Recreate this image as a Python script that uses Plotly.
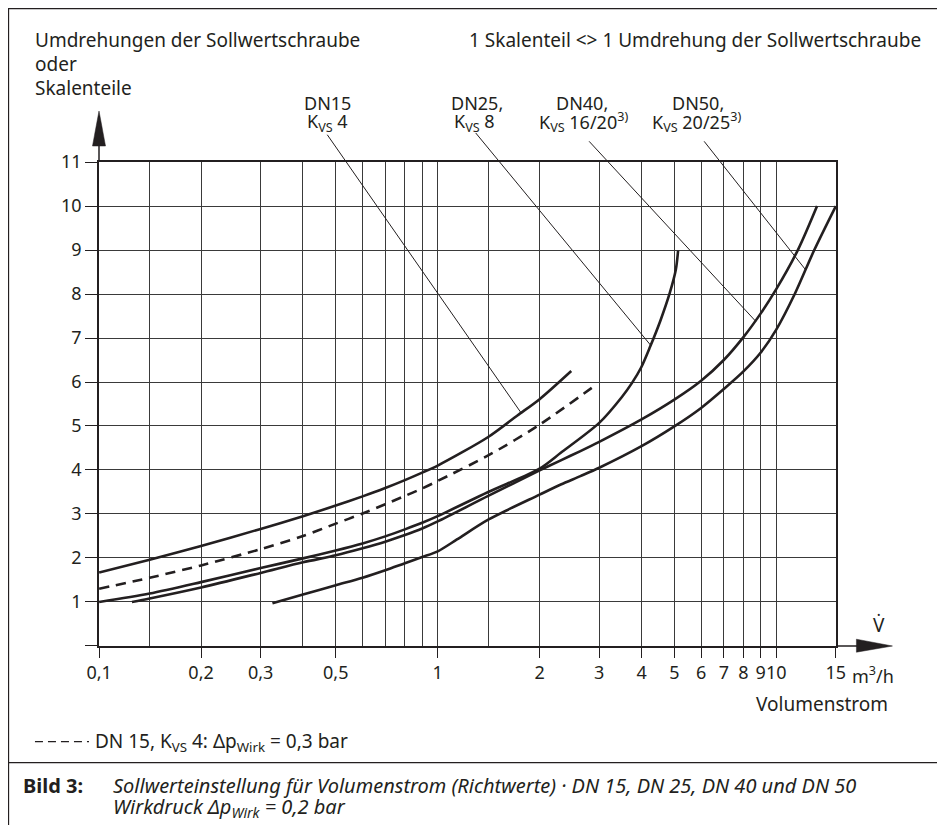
import math
import plotly.graph_objects as go

# ---------------- data ----------------
# DN15, Kvs 4, Δp = 0,2 bar (solid)
dn15_x = [0.1, 0.141, 0.2, 0.3, 0.4, 0.5, 0.6, 0.7, 0.8, 0.9, 1.0, 1.41, 1.72, 2.0, 2.48]
dn15_y = [1.67, 1.96, 2.27, 2.66, 2.95, 3.19, 3.40, 3.59, 3.77, 3.94, 4.10, 4.75, 5.24, 5.61, 6.25]
# DN15, Kvs 4, Δp = 0,3 bar (dashed)
dn15b_x = [0.1, 0.141, 0.2, 0.3, 0.4, 0.5, 0.6, 0.7, 0.8, 0.9, 1.0, 1.41, 2.0, 2.95]
dn15b_y = [1.30, 1.55, 1.83, 2.20, 2.50, 2.78, 3.01, 3.22, 3.41, 3.58, 3.75, 4.33, 5.03, 5.95]
# DN25, Kvs 8
dn25_x = [0.1, 0.141, 0.2, 0.3, 0.4, 0.5, 0.6, 0.7, 0.8, 0.9, 1.0, 1.41, 2.0, 2.31, 3.0, 3.5,
          3.75, 3.99, 4.24, 4.55, 4.85, 5.05, 5.13]
dn25_y = [1.0, 1.19, 1.45, 1.77, 1.99, 2.17, 2.33, 2.49, 2.65, 2.80, 2.95, 3.50, 4.03, 4.39, 5.07, 5.66,
          5.98, 6.33, 6.80, 7.40, 8.03, 8.55, 8.99]
# DN40, Kvs 16/20
dn40_x = [0.125, 0.141, 0.2, 0.3, 0.4, 0.5, 0.6, 0.7, 0.8, 0.9, 1.0, 1.41, 2.0, 2.31, 2.64, 3.0,
          4.0, 5.0, 6.0, 7.0, 8.0, 9.0, 10.0, 11.6, 13.2]
dn40_y = [1.0, 1.08, 1.33, 1.66, 1.90, 2.06, 2.22, 2.37, 2.52, 2.67, 2.83, 3.41, 3.99, 4.22, 4.43, 4.64,
          5.15, 5.60, 6.03, 6.50, 7.02, 7.56, 8.11, 9.01, 10.0]
# DN50, Kvs 20/25
dn50_x = [0.325, 0.4, 0.5, 0.6, 0.7, 0.8, 0.9, 1.0, 1.14, 1.41, 2.0, 2.31, 2.64, 3.0, 4.0, 5.0,
          6.0, 7.0, 8.0, 9.0, 10.0, 11.34, 12.95, 15.0]
dn50_y = [0.97, 1.17, 1.38, 1.55, 1.72, 1.88, 2.02, 2.15, 2.42, 2.87, 3.44, 3.67, 3.86, 4.05, 4.54, 4.99,
          5.41, 5.84, 6.24, 6.67, 7.19, 8.0, 9.0, 10.0]

x_tick_vals = [0.1, 0.2, 0.3, 0.5, 1, 2, 3, 4, 5, 6, 7, 8, 9, 10, 15]
x_tick_text = ["0,1", "0,2", "0,3", "0,5", "1", "2", "3", "4", "5", "6", "7", "8", "9", "10", "15"]
x_minor_vals = [0.141, 0.4, 0.6, 0.7, 0.8, 0.9, 1.41]
y_tick_vals = [0, 1, 2, 3, 4, 5, 6, 7, 8, 9, 10, 11]
y_tick_text = ["", "1", "2", "3", "4", "5", "6", "7", "8", "9", "10", "11"]

# leader lines: (label end x, y) -> (curve point x, y)
leaders = [
    ((0.472, 11.62), (1.77, 5.28)),
    ((1.295, 11.66), (4.26, 6.83)),
    ((2.80, 11.47), (8.69, 7.38)),
    ((6.12, 11.47), (12.2, 8.55)),
]

# ---------------- layout geometry ----------------
OFF = 8                      # page body margin of the browser
W, H = 945 - OFF, 825 - OFF  # figure size
PLOT_L, PLOT_R, PLOT_T, PLOT_B = 99, 835.6, 162, 646.3   # page pixels of the plot area
L, R = PLOT_L - OFF, W - (PLOT_R - OFF)
T, B = PLOT_T - OFF, H - (PLOT_B - OFF)
X0, X1 = 0.1, 15.0
Y0, Y1 = 0.0, 11.0
PW, PH = W - L - R, H - T - B
INK = "#231f20"
GRID = "#3a3a3a"
FONT = "Noto Sans"
FS = 18


def fx(v):
    return (math.log10(v) - math.log10(X0)) / (math.log10(X1) - math.log10(X0))


def fy(v):
    return (v - Y0) / (Y1 - Y0)


def px(p):
    """page pixel x -> paper x"""
    return (p - OFF - L) / PW


def py(p):
    """page pixel y -> paper y"""
    return (H - B - (p - OFF)) / PH


fig = go.Figure()


def add_curve(xs, ys, dash=None):
    fig.add_trace(go.Scatter(
        x=xs, y=ys, mode="lines",
        line=dict(color=INK, width=2.6, shape="spline", smoothing=0.8, dash=dash),
        hoverinfo="skip", showlegend=False))


add_curve(dn15_x, dn15_y)
add_curve(dn15b_x, dn15b_y, dash="10px,7px")
add_curve(dn25_x, dn25_y)
add_curve(dn40_x, dn40_y)
add_curve(dn50_x, dn50_y)

shapes = []
for (sx, sy), (ex, ey) in leaders:
    shapes.append(dict(type="line", xref="paper", yref="paper",
                       x0=fx(sx), y0=fy(sy), x1=fx(ex), y1=fy(ey),
                       line=dict(color=INK, width=1)))

# y-axis extension and arrow
shapes.append(dict(type="line", xref="paper", yref="paper", x0=0, x1=0, y0=1, y1=py(140),
                   line=dict(color=INK, width=1.5)))
shapes.append(dict(type="path", xref="paper", yref="paper",
                   path=f"M {px(92.5)} {py(146)} L {px(105.5)} {py(146)} L {px(99)} {py(111)} Z",
                   fillcolor=INK, line=dict(color=INK, width=0.5)))
# x-axis extension and arrow
shapes.append(dict(type="line", xref="paper", yref="paper", x0=1, x1=px(860), y0=0, y1=0,
                   line=dict(color=INK, width=1.5)))
shapes.append(dict(type="path", xref="paper", yref="paper",
                   path=f"M {px(856)} {py(639.5)} L {px(856)} {py(652.5)} L {px(892)} {py(646.3)} Z",
                   fillcolor=INK, line=dict(color=INK, width=0.5)))
# dashed legend sample
shapes.append(dict(type="line", xref="paper", yref="paper", x0=px(35), x1=px(89), y0=py(742), y1=py(742),
                   line=dict(color=INK, width=1.3, dash="8px,5px")))
# frame
shapes.append(dict(type="rect", xref="paper", yref="paper",
                   x0=px(8.6), x1=px(940), y0=py(8.6), y1=py(763),
                   line=dict(color=INK, width=1.2), fillcolor="rgba(0,0,0,0)"))
shapes.append(dict(type="line", xref="paper", yref="paper", x0=px(8.6), x1=px(8.6),
                   y0=py(763), y1=py(826), line=dict(color=INK, width=1.2)))

ann = []


def text(t, x, y, xa="left", ya="middle", size=FS):
    ann.append(dict(text=t, x=px(x), y=py(y), xref="paper", yref="paper", xanchor=xa,
                    yanchor=ya, showarrow=False, font=dict(family=FONT, size=size, color=INK)))


text("Umdrehungen der Sollwertschraube", 33, 40, size=19)
text("oder", 33, 64, size=19)
text("Skalenteile", 33, 88, size=19)
text("1 Skalenteil <> 1 Umdrehung der Sollwertschraube", 923, 40, xa="right", size=19)

text("DN15", 327, 103, xa="center")
text("K<sub>VS</sub> 4", 327, 122, xa="center")
text("DN25,", 477, 103, xa="center")
text("K<sub>VS</sub> 8", 474, 122, xa="center")
text("DN40,", 582, 103, xa="center")
text("K<sub>VS</sub> 16/20<sup>3)</sup>", 583, 122, xa="center")
text("DN50,", 698, 103, xa="center")
text("K<sub>VS</sub> 20/25<sup>3)</sup>", 696, 122, xa="center")

text("V\u0307", 879, 625, xa="center", size=19)
text("m<sup>3</sup>/h", 850, 675)
text("Volumenstrom", 890, 704, xa="right", size=19)

text("DN 15, K<sub>VS</sub> 4: \u0394p<sub>Wirk</sub> = 0,3 bar", 93, 742, size=19)
text("<b>Bild 3:</b>", 21, 786, size=20)
text("<i>Sollwerteinstellung für Volumenstrom (Richtwerte) · DN 15, DN 25, DN 40 und DN 50</i>",
     111, 786, size=20)
text("<i>Wirkdruck \u0394p<sub>Wirk</sub> = 0,2 bar</i>", 111, 808, size=20)

fig.update_layout(
    width=W, height=H,
    margin=dict(l=L, r=R, t=T, b=B, pad=0),
    paper_bgcolor="white", plot_bgcolor="white",
    showlegend=False,
    shapes=shapes, annotations=ann,
    font=dict(family=FONT, size=FS, color=INK),
    xaxis=dict(type="log", range=[math.log10(X0) - 0.0004, math.log10(X1) + 0.0004],
               tickmode="array", tickvals=x_tick_vals, ticktext=x_tick_text, tickangle=0,
               ticks="outside", ticklen=10, tickwidth=1.2, tickcolor=INK,
               showgrid=True, gridcolor=GRID, gridwidth=1,
               minor=dict(tickvals=x_minor_vals, showgrid=True, gridcolor=GRID, gridwidth=1, ticks=""),
               showline=True, linecolor=INK, linewidth=1.5, mirror=True,
               zeroline=False, tickfont=dict(family=FONT, size=FS, color=INK)),
    yaxis=dict(range=[Y0 - 0.002, Y1 + 0.002],
               tickmode="array", tickvals=y_tick_vals, ticktext=y_tick_text,
               ticks="outside", ticklen=12, tickwidth=1.2, tickcolor=INK,
               showgrid=True, gridcolor=GRID, gridwidth=1,
               showline=True, linecolor=INK, linewidth=1.5, mirror=True,
               zeroline=False, tickfont=dict(family=FONT, size=FS, color=INK)),
)

fig.write_html("out.html")
